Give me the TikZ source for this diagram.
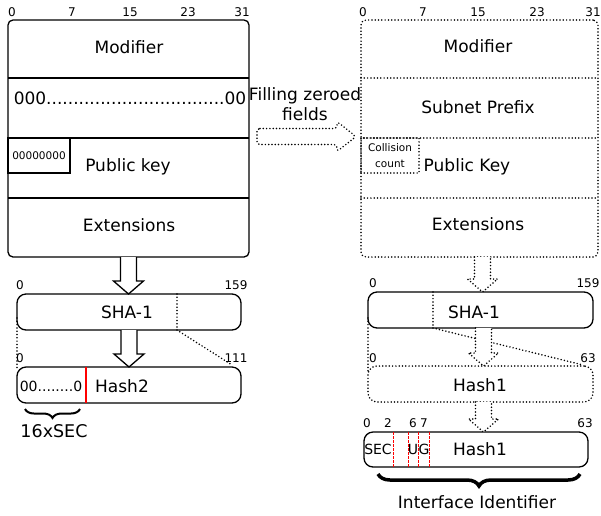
\documentclass[tikz,border=0pt]{standalone}
\usepackage{fontspec}
\setmainfont{DejaVu Sans}
\usetikzlibrary{calc,decorations.pathreplacing}
\newcommand\fmain{\fontsize{17}{20}\selectfont}
\newcommand\fnum{\fontsize{12}{13}\selectfont}
\newcommand\fsmall{\fontsize{10.5}{16}\selectfont}
\newcommand\blkdown[3][]{\draw[#1] let \p1=#2, \p2=#3 in
  (\x1-8pt,\y1) -- (\x1-8pt,\y2+13pt) -- (\x1-15pt,\y2+13pt) -- (\x1,\y2)
  -- (\x1+15pt,\y2+13pt) -- (\x1+8pt,\y2+13pt) -- (\x1+8pt,\y1);}
\newcommand\blkright[3][]{\draw[#1] let \p1=#2, \p2=#3 in
  (\x1,\y1+8pt) -- (\x2-19pt,\y1+8pt) -- (\x2-19pt,\y1+15pt) -- (\x2,\y1)
  -- (\x2-19pt,\y1-15pt) -- (\x2-19pt,\y1-8pt) -- (\x1,\y1-8pt) -- cycle;}
\begin{document}
\begin{tikzpicture}[x=1pt,y=-1pt,
  solid line/.style={line width=1.3pt},
  dots/.style={line width=1.7pt, dash pattern=on 0pt off 3.3pt, line cap=round},
  box/.style={draw, solid line, inner sep=0pt, outer sep=0pt},
  dbox/.style={draw, dots, inner sep=0pt, outer sep=0pt},
  lbl/.style={inner sep=0pt, font=\fmain},
  num/.style={inner sep=0pt, font=\fnum},
  redline/.style={red, line width=1.3pt},
  reddash/.style={red, line width=1pt, dash pattern=on 2.5pt off 1.5pt}]
\useasboundingbox (0,0) rectangle (601,515);

% ---------- left field box ----------
\node[box, rounded corners=5pt, minimum width=241pt, minimum height=237pt] (lbox) at (128.5,138.5) {};
\draw[solid line] (8,78) -- (249,78);
\draw[solid line] (8,138) -- (249,138);
\draw[solid line] (8,198) -- (249,198);
\node[box, minimum width=62pt, minimum height=35pt, font=\fsmall] (lzero) at (39,155.5) {00000000};
\node[num] (l0) at (12,12) {0};
\node[num] (l7) at (72,12) {7};
\node[num] (l15) at (130,12) {15};
\node[num] (l23) at (188,12) {23};
\node[num] (l31) at (242,12) {31};
\node[lbl] (lmod) at (129,47) {Modifier};
\node[lbl] (lzeros) at (130,98) {000.................................00};
\node[lbl] (lpk) at (128,167) {Public key};
\node[lbl] (lext) at (129,225) {Extensions};

% ---------- right field box ----------
\node[dbox, rounded corners=5pt, minimum width=237pt, minimum height=237pt] (rbox) at (479.5,138.5) {};
\draw[dots] (361,78) -- (598,78);
\draw[dots] (361,138) -- (598,138);
\draw[dots] (361,198) -- (598,198);
\node[dbox, minimum width=58pt, minimum height=35pt, align=center, font=\fsmall] (coll) at (390,155.5) {Collision\\count};
\node[num] (r0) at (363,12) {0};
\node[num] (r7) at (423,12) {7};
\node[num] (r15) at (478,12) {15};
\node[num] (r23) at (537,12) {23};
\node[num] (r31) at (593,12) {31};
\node[lbl] (rmod) at (478,46) {Modifier};
\node[lbl] (rsub) at (478,107) {Subnet Prefix};
\node[lbl] (rpk) at (467,167) {Public Key};
\node[lbl] (rext) at (478,224) {Extensions};

% ---------- filling arrow ----------
\node[lbl, align=center] (fill) at (305,104) {Filling zeroed\\fields};
\coordinate (ftail) at (257,136.5);
\coordinate (fhead) at (356,136.5);
\blkright[dots, rounded corners=3pt]{(ftail)}{(fhead)}

% ---------- left SHA-1 / Hash2 ----------
\node[box, rounded corners=9pt, minimum width=224pt, minimum height=36pt] (lsha) at (129,312) {};
\node[lbl] (lshat) at (127,312) {SHA-1};
\node[num] (ls0) at (20,285) {0};
\node[num] (ls159) at (236,285) {159};
\coordinate (lcut) at (177,294);
\coordinate (lcutb) at (177,330);
\draw[dots] (lcut) -- (lcutb);

\node[box, rounded corners=9pt, minimum width=224pt, minimum height=36pt] (lhash) at (129,385) {};
\node[num] (lh0) at (20,358) {0};
\node[num] (lh111) at (236,358) {111};
\coordinate (lhe) at (232,365);
\draw[dots] (lcutb) -- (lhe);
\coordinate (lls) at (17,318);
\coordinate (llh) at (17,368);
\draw[dots] (lls) -- (llh);
\draw[redline] (86,367) -- (86,403);
\node[inner sep=0pt, font=\fontsize{14}{16}\selectfont] (lzz) at (51,386) {00........0};
\node[lbl] (lhasht) at (122,386) {Hash2};
\draw[line width=2pt, decorate, decoration={brace, mirror, amplitude=9pt}] (25,409) -- (80,409);
\node[lbl, font=\fontsize{17.5}{19}\selectfont] (lsec) at (54,431) {16xSEC};

\blkdown[solid line, fill=white]{(lbox.south)}{(lsha.north)}
\blkdown[solid line, fill=white]{(lsha.south)}{(lhash.north)}

% ---------- right SHA-1 / Hash1 / IID ----------
\node[box, rounded corners=9pt, minimum width=225pt, minimum height=36pt] (rsha) at (480.5,310) {};
\node[lbl] (rshat) at (474,312) {SHA-1};
\node[num] (rs0) at (373,283) {0};
\node[num] (rs159) at (588,283) {159};
\coordinate (rcut) at (433,292);
\coordinate (rcutb) at (433,328);
\draw[dots] (rcut) -- (rcutb);

\node[dbox, rounded corners=9pt, minimum width=225pt, minimum height=36pt] (rhash) at (480.5,384) {};
\node[lbl] (rhasht) at (480,385) {Hash1};
\node[num] (rh0) at (373,358) {0};
\node[num] (rh63) at (588,358) {63};
\coordinate (rhe) at (583,365);
\draw[dots] (rcutb) -- (rhe);
\coordinate (rls) at (368,318);
\coordinate (rlh) at (368,372);
\draw[dots] (rls) -- (rlh);

\node[box, rounded corners=9pt, minimum width=224pt, minimum height=35pt] (riid) at (476,449.5) {};
\node[num] (i0) at (367,423) {0};
\node[num] (i2) at (388,423) {2};
\node[num] (i6) at (413,423) {6};
\node[num] (i7) at (424,423) {7};
\node[num] (i63) at (585,423) {63};
\draw[reddash] (393,432) -- (393,467);
\draw[reddash] (408,432) -- (408,467);
\draw[reddash] (418,432) -- (418,467);
\draw[reddash] (429,432) -- (429,467);
\node[inner sep=0pt, font=\fontsize{14}{16}\selectfont] (isec) at (378,449) {SEC};
\node[inner sep=0pt, font=\fontsize{14}{16}\selectfont] (iu) at (413,449) {U};
\node[inner sep=0pt, font=\fontsize{14}{16}\selectfont] (ig) at (424,449) {G};
\node[lbl] (ihash) at (480,449) {Hash1};
\draw[line width=3.5pt, decorate, decoration={brace, mirror, amplitude=12pt}] (378,474) -- (580,474);
\node[lbl] (iif) at (477,502) {Interface Identifier};

\blkdown[dots, fill=white]{($(rbox.south)+(3,0)$)}{($(rsha.north)+(3,0)$)}
\blkdown[dots, fill=white]{($(rsha.south)+(3,0)$)}{($(rhash.north)+(3,0)$)}
\blkdown[dots, fill=white]{($(rhash.south)+(3,0)$)}{($(riid.north)+(7,0)$)}
\end{tikzpicture}
\end{document}
